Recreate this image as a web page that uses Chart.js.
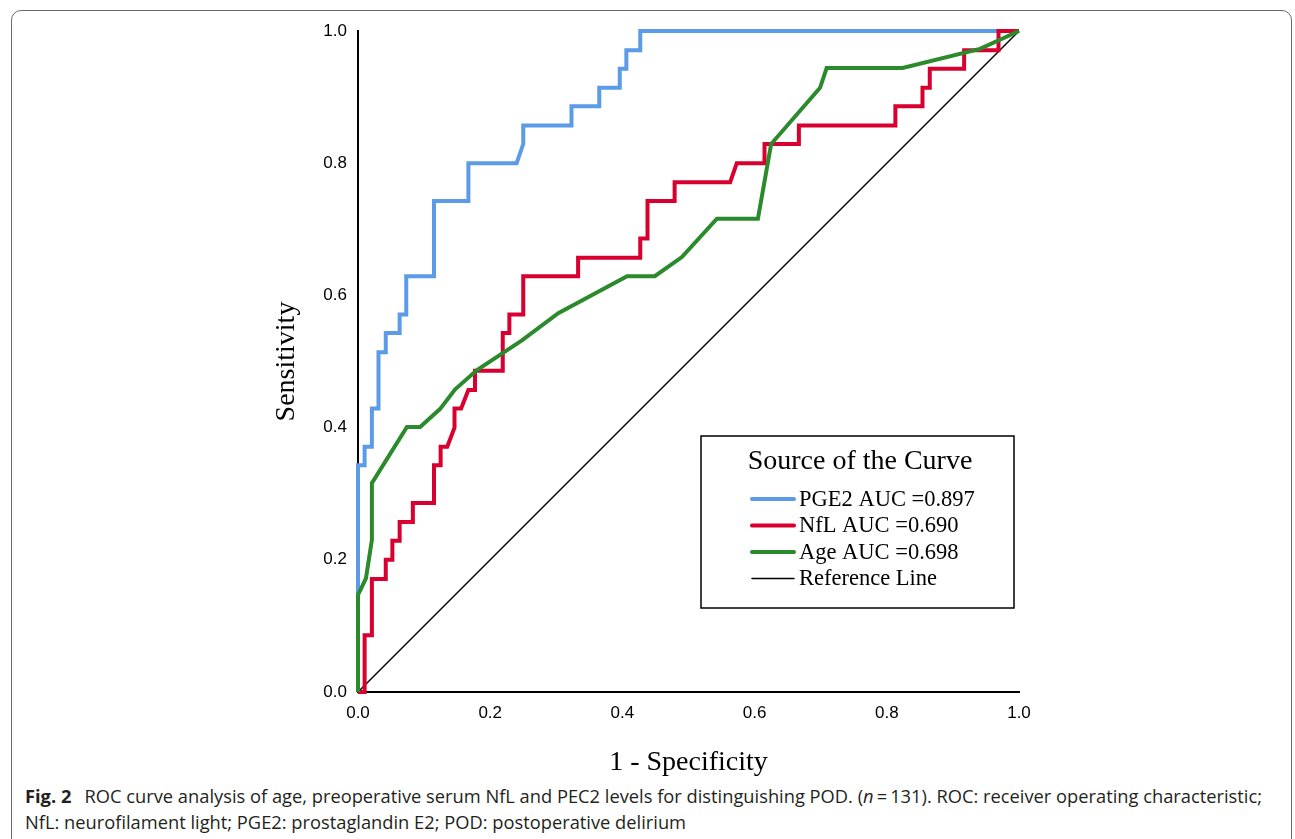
<!DOCTYPE html>
<html>
<head>
<meta charset="utf-8">
<script src="https://cdn.jsdelivr.net/npm/chart.js@4/dist/chart.umd.min.js"></script>
<style>
  html, body { margin: 0; padding: 0; background: #fff; }
  body { width: 1295px; height: 839px; position: relative; overflow: hidden; }
  .frame {
    position: absolute; left: 11px; top: 10px; width: 1281px; height: 900px;
    border: 1px solid #6a6a6a; border-radius: 10px; box-sizing: border-box;
  }
  #roc { position: absolute; left: 0; top: 0; }
  .caption {
    position: absolute; left: 25px; font-family: "Open Sans", sans-serif;
    font-size: 17.5px; color: #231f20; white-space: nowrap; transform-origin: 0 50%;
  }
  .caption b { font-weight: 700; margin-right: 8px; }
</style>
</head>
<body>
<div class="frame"></div>
<canvas id="roc" width="1295" height="780"></canvas>
<div class="caption" id="cap1" style="top:784px"><b>Fig. 2</b> ROC curve analysis of age, preoperative serum NfL and PEC2 levels for distinguishing POD. (<i>n</i>&#8201;=&#8201;131). ROC: receiver operating characteristic;</div>
<div class="caption" id="cap2" style="top:810px">NfL: neurofilament light; PGE2: prostaglandin E2; POD: postoperative delirium</div>
<script>
// ROC coordinates (1 - specificity, sensitivity)
const PGE2_FPR = [0, 0, 0.010, 0.010, 0.021, 0.021, 0.031, 0.031, 0.042, 0.042, 0.063, 0.063, 0.073, 0.073,
  0.115, 0.115, 0.167, 0.167, 0.240, 0.250, 0.250, 0.323, 0.323, 0.365, 0.365, 0.396, 0.396, 0.406, 0.406,
  0.427, 0.427, 1.0];
const PGE2_TPR = [0, 0.343, 0.343, 0.371, 0.371, 0.429, 0.429, 0.514, 0.514, 0.543, 0.543, 0.571, 0.571, 0.629,
  0.629, 0.743, 0.743, 0.800, 0.800, 0.829, 0.857, 0.857, 0.886, 0.886, 0.914, 0.914, 0.943, 0.943, 0.971,
  0.971, 1.0, 1.0];

const NFL_FPR = [0, 0.010, 0.010, 0.021, 0.021, 0.042, 0.042, 0.052, 0.052, 0.063, 0.063, 0.083, 0.083, 0.115,
  0.115, 0.125, 0.125, 0.135, 0.146, 0.146, 0.156, 0.167, 0.177, 0.177, 0.219, 0.219, 0.229, 0.229, 0.250,
  0.250, 0.333, 0.333, 0.427, 0.427, 0.438, 0.438, 0.479, 0.479, 0.563, 0.573, 0.615, 0.615, 0.667, 0.667,
  0.813, 0.813, 0.854, 0.854, 0.865, 0.865, 0.917, 0.917, 0.969, 0.969, 1.0];
const NFL_TPR = [0, 0, 0.086, 0.086, 0.171, 0.171, 0.200, 0.200, 0.229, 0.229, 0.257, 0.257, 0.286, 0.286,
  0.343, 0.343, 0.371, 0.371, 0.400, 0.429, 0.429, 0.457, 0.457, 0.486, 0.486, 0.543, 0.543, 0.571, 0.571,
  0.629, 0.629, 0.657, 0.657, 0.686, 0.686, 0.743, 0.743, 0.771, 0.771, 0.800, 0.800, 0.829, 0.829, 0.857,
  0.857, 0.886, 0.886, 0.914, 0.914, 0.943, 0.943, 0.971, 0.971, 1.0, 1.0];

const AGE_FPR = [0, 0, 0.012, 0.021, 0.021, 0.074, 0.094, 0.124, 0.147, 0.180, 0.248, 0.303, 0.407, 0.449,
  0.490, 0.543, 0.605, 0.625, 0.699, 0.709, 0.824, 0.941, 1.0];
const AGE_TPR = [0, 0.147, 0.172, 0.230, 0.316, 0.401, 0.401, 0.428, 0.458, 0.487, 0.532, 0.573, 0.629, 0.629,
  0.658, 0.716, 0.716, 0.829, 0.914, 0.944, 0.944, 0.973, 1.0];

const REF_FPR = [0, 1];
const REF_TPR = [0, 1];

const TICKS = [0, 0.2, 0.4, 0.6, 0.8, 1.0];

const SERIES_LABELS = ["PGE2 AUC =0.897", "NfL AUC =0.690", "Age AUC =0.698", "Reference Line"];
const SERIES_COLORS = ["#5b9be8", "#d7002f", "#2b8a2b", "#000000"];

function toPoints(xs, ys) {
  return xs.map((x, i) => ({ x, y: ys[i] }));
}

const legendBox = {
  id: "legendBox",
  afterDraw(chart) {
    const ctx = chart.ctx;
    const x0 = 701, y0 = 436, w = 313, h = 172;
    ctx.save();
    ctx.fillStyle = "#fff";
    ctx.fillRect(x0, y0, w, h);
    ctx.strokeStyle = "#000";
    ctx.lineWidth = 1.5;
    ctx.strokeRect(x0, y0, w, h);
    ctx.fillStyle = "#000";
    ctx.textBaseline = "middle";
    ctx.textAlign = "center";
    ctx.font = '28px "Liberation Serif", serif';
    ctx.fillText("Source of the Curve", 860, 462);
    ctx.textAlign = "left";
    ctx.font = '22.5px "Liberation Serif", serif';
    chart.data.datasets.forEach((ds, i) => {
      const y = 499 + i * 26.5;
      ctx.strokeStyle = ds.borderColor;
      ctx.lineWidth = ds.borderWidth;
      ctx.lineCap = "round";
      ctx.beginPath();
      ctx.moveTo(752, y);
      ctx.lineTo(794, y);
      ctx.stroke();
      ctx.fillText(ds.label, 799, y + 1);
    });
    ctx.restore();
  }
};

const axisCommon = {
  type: "linear",
  min: 0,
  max: 1,
  grid: { display: false, drawTicks: false },
  border: { display: true, color: "#000", width: 2 },
  afterBuildTicks: (scale) => { scale.ticks = TICKS.map((v) => ({ value: v })); },
};

new Chart(document.getElementById("roc"), {
  type: "scatter",
  data: {
    datasets: [
      { label: SERIES_LABELS[0], data: toPoints(PGE2_FPR, PGE2_TPR), borderColor: SERIES_COLORS[0], borderWidth: 4, order: 3, clip: false },
      { label: SERIES_LABELS[1], data: toPoints(NFL_FPR, NFL_TPR), borderColor: SERIES_COLORS[1], borderWidth: 4, order: 2, clip: false },
      { label: SERIES_LABELS[2], data: toPoints(AGE_FPR, AGE_TPR), borderColor: SERIES_COLORS[2], borderWidth: 4, order: 1, clip: false },
      { label: SERIES_LABELS[3], data: toPoints(REF_FPR, REF_TPR), borderColor: SERIES_COLORS[3], borderWidth: 1.5, order: 4, clip: false },
    ],
  },
  options: {
    responsive: false,
    animation: false,
    devicePixelRatio: 1,
    showLine: true,
    layout: { padding: { left: 0, top: 31, right: 276, bottom: 0 } },
    elements: {
      point: { radius: 0, hoverRadius: 0 },
      line: { tension: 0, fill: false, borderJoinStyle: "miter", borderCapStyle: "butt" },
    },
    plugins: { legend: { display: false }, tooltip: { enabled: false } },
    scales: {
      x: {
        ...axisCommon,
        position: "bottom",
        afterFit: (scale) => { scale.height = 88; },
        ticks: {
          padding: 11, color: "#000",
          font: { family: '"Liberation Sans", Arial, sans-serif', size: 17 },
          callback: (v) => v.toFixed(1),
        },
        title: {
          display: true, text: "1 - Specificity", color: "#000",
          font: { family: '"Liberation Serif", serif', size: 28 },
          padding: { top: 0, bottom: 1 },
        },
      },
      y: {
        ...axisCommon,
        position: "left",
        afterFit: (scale) => { scale.width = 358; },
        ticks: {
          padding: 11, color: "#000",
          font: { family: '"Liberation Sans", Arial, sans-serif', size: 17 },
          callback: (v) => v.toFixed(1),
        },
        title: {
          display: true, text: "Sensitivity", color: "#000",
          font: { family: '"Liberation Serif", serif', size: 28 },
          padding: { top: 270, bottom: 0 },
        },
      },
    },
  },
  plugins: [legendBox],
});

// stretch caption lines to the width they take in the figure
const cap1 = document.getElementById("cap1");
const capScale = 1237 / cap1.getBoundingClientRect().width;
["cap1", "cap2"].forEach((id) => {
  document.getElementById(id).style.transform = `scaleX(${capScale})`;
});
</script>
</body>
</html>
